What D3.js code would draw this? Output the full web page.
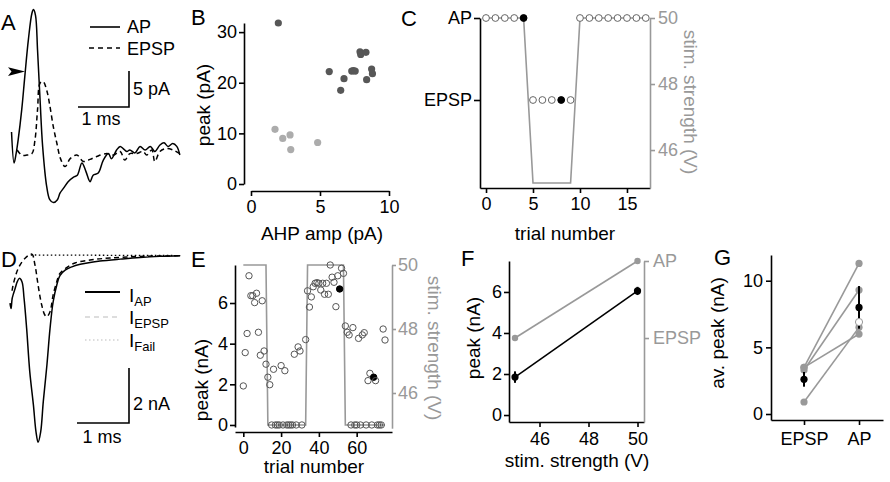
<!DOCTYPE html>
<html>
<head>
<meta charset="utf-8">
<script src="https://cdn.jsdelivr.net/npm/d3@7"></script>
<style>
  body { margin: 0; background: #fff; }
  svg text { font-family: "Liberation Sans", Arial, Helvetica, sans-serif; }
</style>
</head>
<body>
<svg id="fig" width="890" height="482"></svg>
<script>
// ---- A: example currents, time (ms) / current (pA)
const traceApA = [[0.03, 2.5], [0.08, -1.8], [0.12, -0.5], [0.16, 1.4], [0.23, 5.6], [0.29, 10.2], [0.36, 15.3], [0.43, 19.0], [0.46, 19.5], [0.50, 18.7], [0.54, 13.9], [0.59, 6.9], [0.64, 0.5], [0.72, -5.1], [0.78, -6.9], [0.85, -7.3], [0.93, -6.9], [0.98, -6.0], [1.05, -5.3], [1.14, -4.4], [1.24, -3.8], [1.32, -3.5], [1.41, -1.8], [1.49, -3.0], [1.57, -4.4], [1.63, -3.5], [1.73, -3.2], [1.83, -1.4], [1.93, -0.5], [1.99, -1.2], [2.09, 0], [2.16, 0.5], [2.22, 0.2], [2.29, -0.2], [2.35, 0], [2.45, -0.4], [2.55, 0.5], [2.65, 0], [2.75, 0.5], [2.84, -0.2], [2.94, 0.7], [3.02, 1.0], [3.10, 0.5], [3.19, 0.9], [3.27, 0.5], [3.33, -0.7]]
const traceEpspA = [[0.14, 0], [0.23, -0.7], [0.33, -0.7], [0.43, -0.5], [0.49, 1.4], [0.54, 5.6], [0.59, 9.3], [0.65, 9.5], [0.72, 8.3], [0.78, 6.2], [0.85, 3.2], [0.92, 0.9], [0.99, -1.2], [1.08, -2.3], [1.18, -1.2], [1.31, -0.7], [1.44, -1.6], [1.57, -1.3], [1.70, -0.9], [1.90, -0.5], [2.03, -0.7], [2.16, -0.2], [2.25, -1.4], [2.35, -0.5], [2.48, -0.5], [2.61, -0.2], [2.68, -0.7], [2.78, 0], [2.84, -1.6], [2.94, -0.2], [3.07, 0.2], [3.20, 0], [3.33, -0.5]]

// ---- B: AHP amplitude vs peak (pA)
const ahpEpsp = [[1.74, 10.8], [2.3, 9.0], [2.83, 9.7], [2.88, 6.8], [4.83, 8.2]]
const ahpAp = [[1.98, 31.8], [5.67, 22.2], [6.74, 20.8], [6.5, 18.5], [7.3, 22.3], [7.42, 22.4], [7.55, 22.3], [7.9, 26.1], [7.95, 25.6], [8.33, 26.0], [8.38, 20.6], [8.74, 22.7], [8.8, 21.8]]

// ---- C: outcome per trial and stimulus strength (V)
const trialsC = [0, 1, 2, 3, 4, 5, 6, 7, 8, 9, 10, 11, 12, 13, 14, 15, 16, 17]
const stimC = [50, 50, 50, 50, 50, 45, 45, 45, 45, 45, 50, 50, 50, 50, 50, 50, 50, 50]
const outcomeC = ['AP', 'AP', 'AP', 'AP', 'AP', 'EPSP', 'EPSP', 'EPSP', 'EPSP', 'EPSP', 'AP', 'AP', 'AP', 'AP', 'AP', 'AP', 'AP', 'AP']
const filledC = [4, 8]

// ---- D: model currents, time (ms) / current (nA)
const iAP = [[0, -1.75], [0.02, -1.95], [0.04, -1.6], [0.06, -1.45], [0.10, -1.21], [0.14, -0.97], [0.18, -0.85], [0.23, -0.97], [0.27, -1.57], [0.32, -2.67], [0.38, -4.24], [0.45, -5.45], [0.50, -6.43], [0.54, -6.81], [0.59, -6.43], [0.64, -5.33], [0.71, -4.0], [0.77, -2.67], [0.83, -1.7], [0.90, -1.09], [0.96, -0.75], [1.06, -0.55], [1.19, -0.43], [1.35, -0.34], [1.54, -0.27], [1.73, -0.22], [2.12, -0.15], [2.5, -0.09], [2.88, -0.05], [3.27, -0.03]]
const iEPSP = [[0.04, -1.3], [0.06, -1.09], [0.16, -0.48], [0.29, -0.12], [0.42, 0.03], [0.48, -0.36], [0.54, -1.09], [0.61, -1.82], [0.67, -2.18], [0.71, -2.24], [0.77, -2.06], [0.83, -1.45], [0.90, -0.97], [0.96, -0.67], [1.09, -0.46], [1.25, -0.29], [1.54, -0.18], [1.92, -0.11], [2.5, -0.05], [3.27, -0.03]]
const iFail = [[0.4, 0], [3.3, -0.02]]

// ---- E: peak (nA) per trial, stimulus steps (V)
const peaksE = [[0, 1.92], [1, 3.56], [2, 4.5], [3, 7.34], [4, 6.36], [5, 6.36], [6, 6.02], [7, 6.48], [8, 4.56], [9, 3.43], [10, 6.11], [11, 3.64], [12, 2.99],
  [13, 2.35], [14, 1.98], [15, 0], [16, 2.74], [17, 0], [18, 0], [19, 0], [20, 2.92], [21, 0], [22, 2.67], [23, 0], [24, 0], [25, 0], [26, 0], [27, 3.48], [28, 0], [29, 3.84], [30, 3.64], [31, 0], [33, 4.2],
  [34, 6.6], [35, 5.8], [36, 6.3], [37, 6.8], [38, 6.97], [39, 7.0], [40, 6.97], [41, 6.64], [42, 6.97], [43, 6.43], [44, 6.97], [45, 6.43], [46, 7.87], [47, 7.27], [48, 7.02], [49, 5.82], [50, 7.34], [51, 6.69], [52, 7.71], [53, 7.46],
  [54, 4.87], [55, 4.56], [56, 4.43], [57, 0], [58, 4.79], [59, 0], [60, 0], [61, 4.26], [62, 0], [63, 4.43], [64, 4.54], [65, 0], [66, 2.18], [67, 2.54], [68, 0], [69, 2.35], [70, 2.18], [71, 0], [72, 0], [73, 0], [74, 4.72], [75, 4.18]]
const filledE = [51, 69]
const stimStepsE = [[0, 50], [12, 50], [13, 45], [33, 45], [34, 50], [53, 50], [54, 45], [75, 45]]

// ---- F: mean peak vs stimulus
const stimF = [45, 50]
const peakF = [1.85, 6.05]
const errF = [0.28, 0.2]
const outcomeF = ['EPSP', 'AP']

// ---- G: per-cell averages (EPSP, AP) in nA
const cellsG = [[3.5, 11.3], [3.3, 9.3], [3.5, 6.0], [0.9, 6.5]]
const meanG = [2.6, 8.0]
const errG = [0.55, 1.6]
const medianApG = 6.9
const groupsG = ['EPSP', 'AP']

const GREY = '#999999'
const DARK = '#575757'
const LIGHT = '#acacac'
const intFmt = d3.format('d')

const svg = d3.select('#fig')
svg.append('rect').attr('width', 890).attr('height', 482).attr('fill', '#fff')

function addAxis (gen, x, y, color) {
  const g = svg.append('g').attr('transform', `translate(${x},${y})`).call(gen)
  g.select('.domain').attr('stroke', color || '#000').attr('stroke-width', 1.6)
  g.selectAll('.tick line').attr('stroke', color || '#000').attr('stroke-width', 1.6)
  g.selectAll('.tick text').attr('fill', color || '#000').attr('font-size', 18)
  return g
}

function text (t, x, y, size, anchor, color) {
  return svg.append('text').attr('x', x).attr('y', y).attr('font-size', size)
    .attr('text-anchor', anchor || 'start').attr('fill', color || '#000').text(t)
}

function vtext (t, x, y, angle, color) {
  svg.append('text').attr('transform', `translate(${x},${y}) rotate(${angle})`)
    .attr('text-anchor', 'middle').attr('font-size', 19).attr('fill', color || '#000').text(t)
}

// panel letters
text('A', 1, 30, 22)
text('B', 191, 25, 22)
text('C', 401, 26, 22)
text('D', 1, 267, 22)
text('E', 191, 267, 22)
text('F', 461, 266, 22)
text('G', 714, 265, 22)

// ================= A =================
const xA = d3.scaleLinear([0, 1], [10, 61])
const yA = d3.scaleLinear([0, 5], [150, 114])
const lineA = d3.line().x(d => xA(d[0])).y(d => yA(d[1])).curve(d3.curveCatmullRom)
svg.append('path').attr('d', lineA(traceEpspA)).attr('fill', 'none').attr('stroke', '#000')
  .attr('stroke-width', 1.5).attr('stroke-dasharray', '5,3.5')
svg.append('path').attr('d', lineA(traceApA)).attr('fill', 'none').attr('stroke', '#000').attr('stroke-width', 1.5)
// arrowhead marking threshold
svg.append('path').attr('d', 'M8,67.2L25,71.6L8,76L11.5,71.6Z').attr('fill', '#000')
// scale bar
const sbA = [129, 107]
svg.append('path').attr('fill', 'none').attr('stroke', '#000').attr('stroke-width', 1.6)
  .attr('d', `M${sbA[0] - (xA(1) - xA(0))},${sbA[1]}H${sbA[0]}V${sbA[1] - (yA(0) - yA(5))}`)
text('5 pA', 133, 95, 18)
text('1 ms', 101, 125, 18, 'middle')
// legend
svg.append('line').attr('x1', 90).attr('x2', 120).attr('y1', 27).attr('y2', 27).attr('stroke', '#000').attr('stroke-width', 1.6)
svg.append('line').attr('x1', 89).attr('x2', 120).attr('y1', 48).attr('y2', 48).attr('stroke', '#000').attr('stroke-width', 1.6).attr('stroke-dasharray', '5,4')
text('AP', 127, 33, 18)
text('EPSP', 127, 55, 18)

// ================= B =================
const xB = d3.scaleLinear([0, 10], [251, 389])
const yB = d3.scaleLinear([0, 31.8], [184, 23])
addAxis(d3.axisBottom(xB).tickValues([0, 5, 10]).tickFormat(intFmt).tickSize(5).tickPadding(4).tickSizeOuter(0), 0, 191)
addAxis(d3.axisLeft(yB).tickValues([0, 10, 20, 30]).tickFormat(intFmt).tickSize(5).tickPadding(2).tickSizeOuter(0), 244, 0)
svg.append('g').selectAll('circle').data(ahpEpsp).join('circle')
  .attr('cx', d => xB(d[0])).attr('cy', d => yB(d[1])).attr('r', 3.6).attr('fill', LIGHT)
svg.append('g').selectAll('circle').data(ahpAp).join('circle')
  .attr('cx', d => xB(d[0])).attr('cy', d => yB(d[1])).attr('r', 3.6).attr('fill', DARK)
text('AHP amp (pA)', 322, 240, 19, 'middle')
vtext('peak (pA)', 210, 105, -90)

// ================= C =================
const xC = d3.scaleLinear([-0.64, 17.45], [480, 650])
const stateC = d3.scaleLinear([-1.073, 1], [188, 18]) // EPSP = 0, AP = 1
const stimScaleC = d3.scaleLinear([44.85, 50], [188, 18])
addAxis(d3.axisBottom(xC).tickValues([0, 5, 10, 15]).tickFormat(intFmt).tickSize(5).tickPadding(4).tickSizeOuter(0), 0, 188)
addAxis(d3.axisLeft(stateC).tickValues([0, 1]).tickFormat(d => d ? 'AP' : 'EPSP').tickSize(6).tickPadding(2).tickSizeOuter(0), 480, 0)
addAxis(d3.axisRight(stimScaleC).tickValues([46, 48, 50]).tickFormat(intFmt).tickSize(5).tickPadding(3).tickSizeOuter(0), 650, 0, GREY)
svg.append('path').attr('fill', 'none').attr('stroke', GREY).attr('stroke-width', 1.6)
  .attr('d', d3.line().x((d, i) => xC(trialsC[i])).y(d => stimScaleC(d))(stimC))
svg.append('g').selectAll('circle').data(trialsC).join('circle')
  .attr('cx', d => xC(d)).attr('cy', (d, i) => stateC(outcomeC[i] === 'AP' ? 1 : 0)).attr('r', 3.4)
  .attr('fill', d => filledC.includes(d) ? '#000' : '#fff')
  .attr('stroke', d => filledC.includes(d) ? '#000' : '#666').attr('stroke-width', 1)
text('trial number', 565, 240, 19, 'middle')
vtext('stim. strength (V)', 684, 102, 90, GREY)

// ================= D =================
const xD = d3.scaleLinear([0, 1], [10, 62])
const yD = d3.scaleLinear([0, -2], [255, 310])
const lineD = d3.line().x(d => xD(d[0])).y(d => yD(d[1])).curve(d3.curveCatmullRom)
svg.append('path').attr('d', lineD(iFail)).attr('fill', 'none').attr('stroke', '#000').attr('stroke-width', 1.3).attr('stroke-dasharray', '1.5,2.5')
svg.append('path').attr('d', lineD(iEPSP)).attr('fill', 'none').attr('stroke', '#000').attr('stroke-width', 1.5).attr('stroke-dasharray', '5,3.5')
svg.append('path').attr('d', lineD(iAP)).attr('fill', 'none').attr('stroke', '#000').attr('stroke-width', 1.5)
const sbD = [129, 423]
svg.append('path').attr('fill', 'none').attr('stroke', '#000').attr('stroke-width', 1.6)
  .attr('d', `M${sbD[0] - (xD(1) - xD(0))},${sbD[1]}H${sbD[0]}V${sbD[1] - (yD(-2) - yD(0))}`)
text('2 nA', 133, 410, 18)
text('1 ms', 102, 443, 18, 'middle')
// legend
svg.append('line').attr('x1', 85).attr('x2', 120).attr('y1', 292).attr('y2', 292).attr('stroke', '#000').attr('stroke-width', 2)
svg.append('line').attr('x1', 85).attr('x2', 120).attr('y1', 317).attr('y2', 317).attr('stroke', '#bbb').attr('stroke-width', 1).attr('stroke-dasharray', '5,4')
svg.append('line').attr('x1', 85).attr('x2', 120).attr('y1', 340).attr('y2', 340).attr('stroke', '#bbb').attr('stroke-width', 1).attr('stroke-dasharray', '1.5,2.5')
const legD = [['AP', 302], ['EPSP', 324], ['Fail', 347]]
legD.forEach(([sub, y]) => {
  const t = text('I', 129, y, 19)
  t.append('tspan').attr('font-size', 13).attr('dy', 4).text(sub)
})

// ================= E =================
const xE = d3.scaleLinear([-4.4, 78.7], [235, 392])
const yE = d3.scaleLinear([-0.1, 7.87], [427, 265])
const stimScaleE = d3.scaleLinear([44.9, 50], [428.2, 265])
addAxis(d3.axisBottom(xE).tickValues([0, 20, 40, 60]).tickFormat(intFmt).tickSize(5).tickPadding(4).tickSizeOuter(0), 0, 432)
addAxis(d3.axisLeft(yE).tickValues([0, 2, 4, 6]).tickFormat(intFmt).tickSize(5).tickPadding(2).tickSizeOuter(0), 235, 0)
addAxis(d3.axisRight(stimScaleE).tickValues([46, 48, 50]).tickFormat(intFmt).tickSize(4).tickPadding(2).tickSizeOuter(0), 392, 0, GREY)
svg.append('path').attr('fill', 'none').attr('stroke', GREY).attr('stroke-width', 1.6)
  .attr('d', d3.line().x(d => xE(d[0])).y(d => stimScaleE(d[1]))(stimStepsE))
svg.append('g').selectAll('circle').data(peaksE).join('circle')
  .attr('cx', d => xE(d[0])).attr('cy', d => yE(d[1])).attr('r', 3.2)
  .attr('fill', d => filledE.includes(d[0]) ? '#000' : 'none')
  .attr('stroke', d => filledE.includes(d[0]) ? '#000' : '#555').attr('stroke-width', 1)
text('trial number', 314, 473, 19, 'middle')
vtext('peak (nA)', 208, 380, -90)
vtext('stim. strength (V)', 428, 348, 90, GREY)

// ================= F =================
const xF = d3.scaleLinear([44.755, 50.265], [509, 644])
const yF = d3.scaleLinear([-0.34, 7.51], [422, 261])
const stateF = d3.scaleLinear([-1.09, 1], [422, 261]) // EPSP = 0, AP = 1
addAxis(d3.axisBottom(xF).tickValues([46, 48, 50]).tickFormat(intFmt).tickSize(5).tickPadding(5).tickSizeOuter(0), 0, 422)
addAxis(d3.axisLeft(yF).tickValues([0, 2, 4, 6]).tickFormat(intFmt).tickSize(5).tickPadding(2).tickSizeOuter(0), 509, 0)
addAxis(d3.axisRight(stateF).tickValues([0, 1]).tickFormat(d => d ? 'AP' : 'EPSP').tickSize(5).tickPadding(4).tickSizeOuter(0), 644, 0, GREY)
const stateLineF = d3.line().x((d, i) => xF(stimF[i])).y(d => stateF(d === 'AP' ? 1 : 0))
svg.append('path').attr('d', stateLineF(outcomeF)).attr('stroke', GREY).attr('stroke-width', 1.6).attr('fill', 'none')
svg.append('g').selectAll('circle').data(outcomeF).join('circle')
  .attr('cx', (d, i) => xF(stimF[i])).attr('cy', d => stateF(d === 'AP' ? 1 : 0)).attr('r', 3.2).attr('fill', GREY)
svg.append('path').attr('d', d3.line().x((d, i) => xF(stimF[i])).y(d => yF(d))(peakF))
  .attr('stroke', '#000').attr('stroke-width', 1.6).attr('fill', 'none')
svg.append('g').selectAll('line').data(peakF).join('line')
  .attr('x1', (d, i) => xF(stimF[i])).attr('x2', (d, i) => xF(stimF[i]))
  .attr('y1', (d, i) => yF(d - errF[i])).attr('y2', (d, i) => yF(d + errF[i]))
  .attr('stroke', '#000').attr('stroke-width', 2)
svg.append('g').selectAll('circle').data(peakF).join('circle')
  .attr('cx', (d, i) => xF(stimF[i])).attr('cy', d => yF(d)).attr('r', 3.6).attr('fill', '#000')
text('stim. strength (V)', 577, 467, 19, 'middle')
vtext('peak (nA)', 480, 338, -90)

// ================= G =================
const xG = d3.scaleLinear([-0.6, 1.436], [771, 883]) // EPSP = 0, AP = 1
const yG = d3.scaleLinear([-0.45, 11.93], [420, 255])
addAxis(d3.axisBottom(xG).tickValues([0, 1]).tickFormat(d => groupsG[d]).tickSize(5).tickPadding(7).tickSizeOuter(0), 0, 420)
addAxis(d3.axisLeft(yG).tickValues([0, 5, 10]).tickFormat(intFmt).tickSize(5).tickPadding(3).tickSizeOuter(0), 771, 0)
svg.append('g').selectAll('path').data(cellsG).join('path')
  .attr('d', d => d3.line().x((v, i) => xG(i)).y(v => yG(v))(d))
  .attr('stroke', GREY).attr('stroke-width', 1.6).attr('fill', 'none')
svg.append('g').selectAll('circle').data(cellsG.flatMap(d => d.map((v, i) => [i, v]))).join('circle')
  .attr('cx', d => xG(d[0])).attr('cy', d => yG(d[1])).attr('r', 3.6).attr('fill', GREY)
svg.append('g').selectAll('line').data(meanG).join('line')
  .attr('x1', (d, i) => xG(i)).attr('x2', (d, i) => xG(i))
  .attr('y1', (d, i) => yG(d - errG[i])).attr('y2', (d, i) => yG(d + errG[i]))
  .attr('stroke', '#000').attr('stroke-width', 2)
svg.append('circle').attr('cx', xG(1)).attr('cy', yG(medianApG)).attr('r', 3.6)
  .attr('fill', '#fff').attr('stroke', GREY).attr('stroke-width', 1)
svg.append('g').selectAll('circle').data(meanG).join('circle')
  .attr('cx', (d, i) => xG(i)).attr('cy', d => yG(d)).attr('r', 3.6).attr('fill', '#000')
vtext('av. peak (nA)', 724, 333, -90)
</script>
</body>
</html>
